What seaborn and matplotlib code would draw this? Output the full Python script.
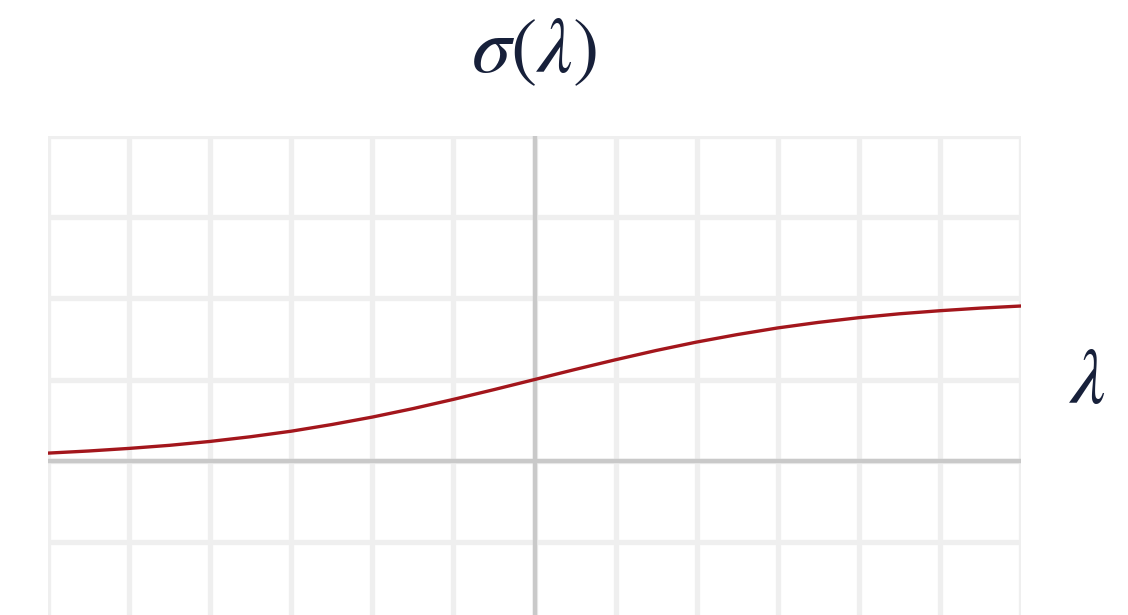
import numpy as np
import pandas as pd
import seaborn as sns
import matplotlib.pyplot as plt

# values
lambdaVals = [-3.0, -2.75, -2.5, -2.25, -2.0, -1.75, -1.5, -1.25, -1.0, -0.75, -0.5, -0.25,
              0.0, 0.25, 0.5, 0.75, 1.0, 1.25, 1.5, 1.75, 2.0, 2.25, 2.5, 2.75, 3.0]
sigmaVals = [0.047, 0.060, 0.076, 0.095, 0.119, 0.148, 0.182, 0.223, 0.269, 0.321, 0.378, 0.438,
             0.500, 0.562, 0.622, 0.679, 0.731, 0.777, 0.818, 0.852, 0.881, 0.905, 0.924, 0.940, 0.953]
titleText = r'$\sigma(\lambda)$'
xLabelText = r'$\lambda$'

df = pd.DataFrame({'lambda': lambdaVals, 'sigma': sigmaVals})

sns.set_style('white')
plt.rcParams['mathtext.fontset'] = 'stix'

fig = plt.figure(figsize=(11.28, 6.15), dpi=100)
ax = fig.add_axes([48 / 1128, 0, 973 / 1128, 479 / 615])

ax.set_xlim(-3, 3)
ax.set_ylim(-0.95, 2)
ax.set_xticks(np.arange(-3, 3.01, 0.5))
ax.set_yticks(np.arange(-0.5, 2.01, 0.5))
ax.grid(True, color='#efefef', linewidth=3.8, zorder=0)
ax.tick_params(left=False, bottom=False, labelleft=False, labelbottom=False)
for s in ax.spines.values():
    s.set_visible(False)

ax.axhline(0, color='#c9c9c9', linewidth=3.2, zorder=1)
ax.axvline(0, color='#c9c9c9', linewidth=3.2, zorder=1)

sns.lineplot(data=df, x='lambda', y='sigma', ax=ax, color='#a3161c', linewidth=2.4, zorder=3)
ax.set_xlabel('')
ax.set_ylabel('')

ax.set_title(titleText, fontsize=57, color='#17203a', pad=46)
ax.text(3.41, 0.49, xLabelText, fontsize=57, color='#17203a', ha='center', va='center', clip_on=False)

plt.savefig('out.png', dpi=100)
